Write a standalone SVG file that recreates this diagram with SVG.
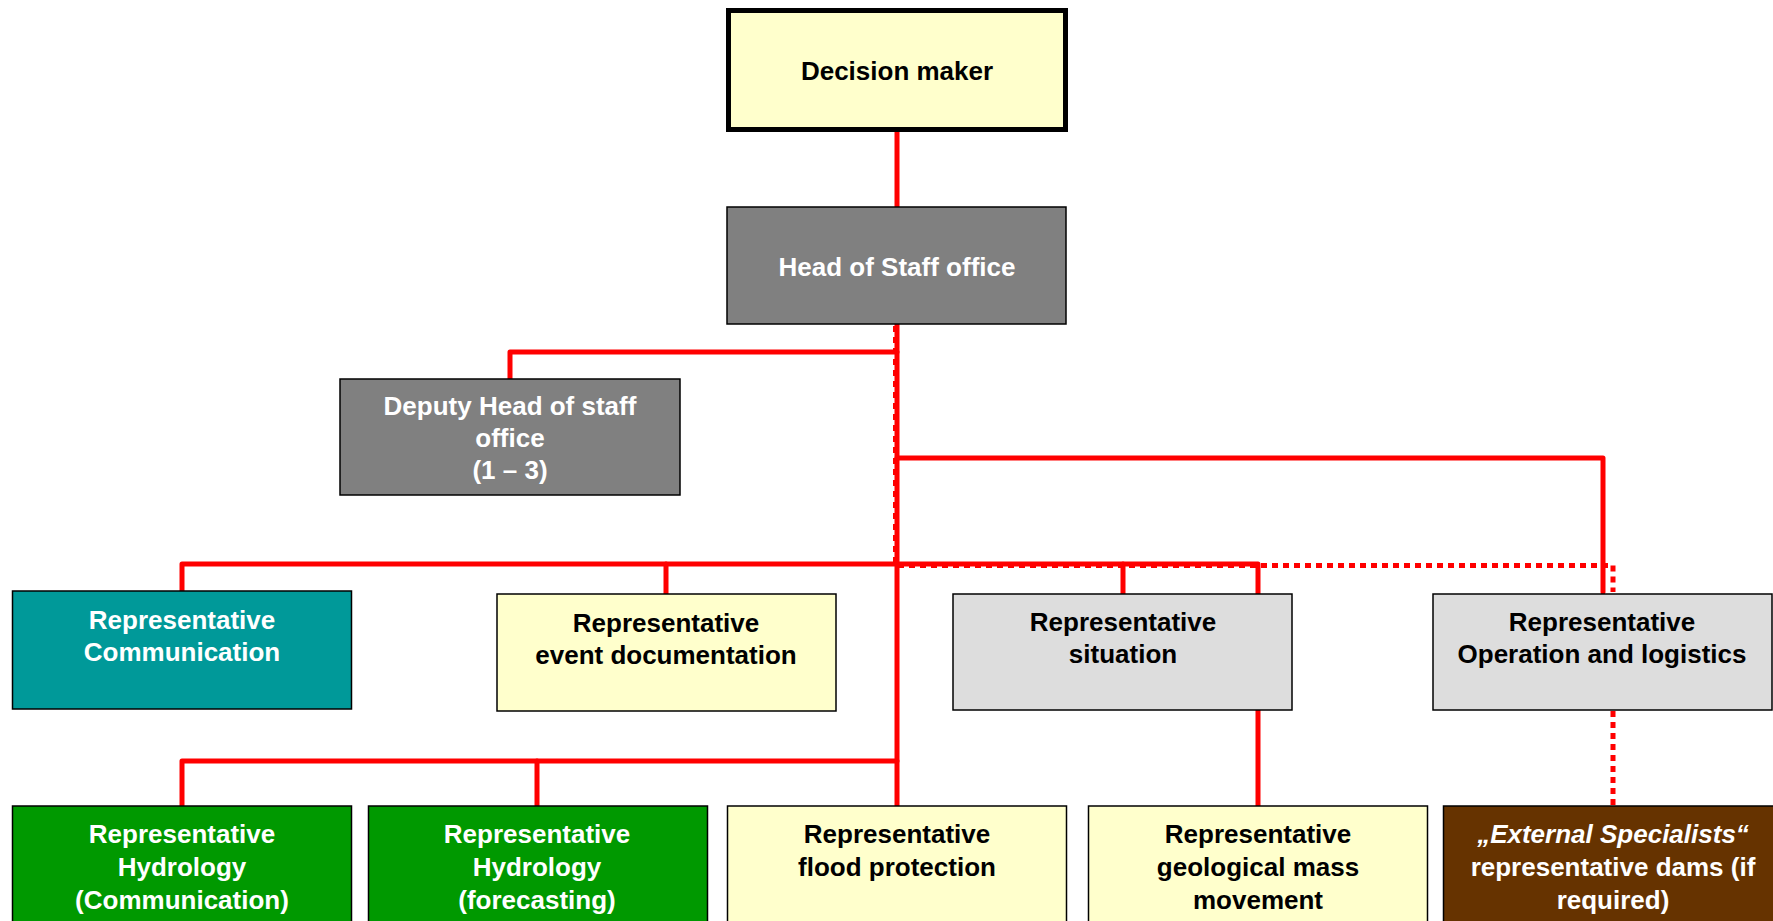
<svg xmlns="http://www.w3.org/2000/svg" width="1773" height="921" viewBox="0 0 1773 921">
<style>
text{font-family:"Liberation Sans",Arial,sans-serif;font-size:26px;font-weight:bold;text-anchor:middle}
.w{fill:#ffffff}.k{fill:#000000}
.box{stroke:#000;stroke-width:1.5}
.yel{fill:#FFFFCC}.gry{fill:#808080}.lgr{fill:#DDDDDD}.teal{fill:#009999}.grn{fill:#009900}.brn{fill:#663300}
.c{fill:none;stroke:#FF0000;stroke-width:5;stroke-linejoin:round;stroke-linecap:round}
.d{fill:none;stroke:#FF0000;stroke-width:5;stroke-dasharray:6 5}
</style>
<rect width="1773" height="921" fill="#ffffff"/>
<g id="connectors">
<path class="d" d="M895.5,326 V565.5 H1613 V592"/>
<path class="d" d="M1613,711 V806"/>
<path class="c" d="M897,131 V207"/>
<path class="c" d="M897,324 V806"/>
<path class="c" d="M897,352 H510 V379"/>
<path class="c" d="M897,458 H1603 V592"/>
<path class="c" d="M182,591 V564 H1258 V594"/>
<path class="c" d="M666,564 V594"/>
<path class="c" d="M1123,564 V594"/>
<path class="c" d="M1258,709 V806"/>
<path class="c" d="M182,806 V761 H897"/>
<path class="c" d="M537,761 V806"/>
</g>
<g id="decision-maker">
<rect x="728.5" y="10.5" width="337" height="119" class="yel" stroke="#000" stroke-width="5"/>
<text x="897" y="80" class="k">Decision maker</text>
</g>
<g id="head-of-staff">
<rect x="727" y="207" width="339" height="117" class="box gry"/>
<text x="897" y="276" class="w">Head of Staff office</text>
</g>
<g id="deputy">
<rect x="340" y="379" width="340" height="116" class="box gry"/>
<text x="510" y="415" class="w">Deputy Head of staff</text>
<text x="510" y="447" class="w">office</text>
<text x="510" y="479" class="w">(1 – 3)</text>
</g>
<g id="rep-communication">
<rect x="12.5" y="591" width="339" height="118" class="box teal"/>
<text x="182" y="629" class="w">Representative</text>
<text x="182" y="661" class="w">Communication</text>
</g>
<g id="rep-event-documentation">
<rect x="497" y="594" width="339" height="117" class="box yel"/>
<text x="666" y="632" class="k">Representative</text>
<text x="666" y="664" class="k">event documentation</text>
</g>
<g id="rep-situation">
<rect x="953" y="594" width="339" height="116" class="box lgr"/>
<text x="1123" y="631" class="k">Representative</text>
<text x="1123" y="663" class="k">situation</text>
</g>
<g id="rep-operation">
<rect x="1433" y="594" width="339" height="116" class="box lgr"/>
<text x="1602" y="631" class="k">Representative</text>
<text x="1602" y="663" class="k">Operation and logistics</text>
</g>
<g id="rep-hydrology-communication">
<rect x="12.5" y="806" width="339" height="120" class="box grn"/>
<text x="182" y="843" class="w">Representative</text>
<text x="182" y="876" class="w">Hydrology</text>
<text x="182" y="909" class="w">(Communication)</text>
</g>
<g id="rep-hydrology-forecasting">
<rect x="368.5" y="806" width="339" height="120" class="box grn"/>
<text x="537" y="843" class="w">Representative</text>
<text x="537" y="876" class="w">Hydrology</text>
<text x="537" y="909" class="w">(forecasting)</text>
</g>
<g id="rep-flood-protection">
<rect x="727.5" y="806" width="339" height="120" class="box yel"/>
<text x="897" y="843" class="k">Representative</text>
<text x="897" y="876" class="k">flood protection</text>
</g>
<g id="rep-geological">
<rect x="1088.5" y="806" width="339" height="120" class="box yel"/>
<text x="1258" y="843" class="k">Representative</text>
<text x="1258" y="876" class="k">geological mass</text>
<text x="1258" y="909" class="k">movement</text>
</g>
<g id="external-specialists">
<rect x="1443.5" y="806" width="340" height="120" class="box brn"/>
<text x="1613" y="843" class="w" font-style="italic">„External Specialists“</text>
<text x="1613" y="876" class="w">representative dams (if</text>
<text x="1613" y="909" class="w">required)</text>
</g>
</svg>
